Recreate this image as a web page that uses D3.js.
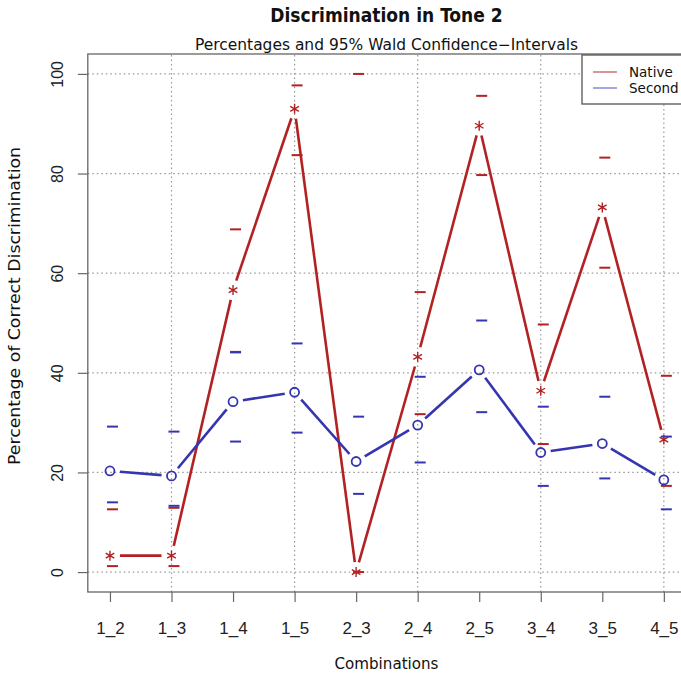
<!DOCTYPE html>
<html>
<head>
<meta charset="utf-8">
<script src="https://cdn.jsdelivr.net/npm/d3@7"></script>
<style>
  body { margin: 0; background: #fff; }
  svg { display: block; font-family: "DejaVu Sans", sans-serif; }
  .cond { font-family: "DejaVu Sans Condensed", "DejaVu Sans", sans-serif; font-stretch: condensed; }
</style>
</head>
<body>
<svg id="chart" width="681" height="680"></svg>
<script>
// combinations on the x axis
var combos = ['1_2', '1_3', '1_4', '1_5', '2_3', '2_4', '2_5', '3_4', '3_5', '4_5'];
var yTicks = [0, 20, 40, 60, 80, 100];

// native speakers: percentage and CI bounds
var nativePct   = [3.3, 3.3, 56.6, 93.0, 0.0, 43.2, 89.6, 36.4, 73.2, 26.6];
var nativeLow   = [1.2, 1.2, 44.2, 83.7, 0.0, 31.7, 79.7, 25.7, 61.1, 17.3];
var nativeHigh  = [12.6, 12.9, 68.8, 97.7, 100.0, 56.2, 95.6, 49.7, 83.2, 39.4];

// second language speakers
var secondPct   = [20.3, 19.3, 34.2, 36.1, 22.2, 29.5, 40.6, 24.0, 25.8, 18.5];
var secondLow   = [14.0, 13.3, 26.2, 28.0, 15.7, 22.0, 32.1, 17.3, 18.8, 12.6];
var secondHigh  = [29.2, 28.2, 44.1, 45.9, 31.2, 39.2, 50.5, 33.2, 35.2, 27.2];

var red = '#b22222';
var blue = '#3535b0';

var svg = d3.select('#chart');

var x = d3.scaleLinear().domain([0.64, 10.36]).range([87.8, 686]);
var y = d3.scaleLinear().domain([-4, 104]).range([592, 54]);

// grid (R grid(): dotted at pretty positions)
var grid = svg.append('g').attr('class', 'grid')
    .attr('stroke', '#999').attr('stroke-width', 1.2).attr('stroke-dasharray', '1.5,3');
grid.selectAll('line.h').data(yTicks).enter().append('line')
    .attr('x1', x.range()[0]).attr('x2', x.range()[1])
    .attr('y1', function(d) { return y(d); }).attr('y2', function(d) { return y(d); });
grid.selectAll('line.v').data([2, 4, 6, 8, 10]).enter().append('line')
    .attr('y1', y.range()[0]).attr('y2', y.range()[1])
    .attr('x1', function(d) { return x(d); }).attr('x2', function(d) { return x(d); });

// plot box
svg.append('rect')
    .attr('x', x.range()[0]).attr('y', y.range()[1])
    .attr('width', x.range()[1] - x.range()[0]).attr('height', y.range()[0] - y.range()[1])
    .attr('fill', 'none').attr('stroke', '#666').attr('stroke-width', 1.3);

// y axis, R style with rotated labels
var yAxis = svg.append('g')
    .attr('transform', 'translate(' + x.range()[0] + ',0)')
    .call(d3.axisLeft(y).tickValues(yTicks).tickSize(10).tickPadding(0).tickFormat(d3.format('d')));
yAxis.select('.domain').remove();
yAxis.selectAll('line').attr('stroke', '#666').attr('stroke-width', 1.2);
yAxis.selectAll('text')
    .attr('x', 0).attr('y', 0).attr('dy', '0.35em')
    .attr('text-anchor', 'middle')
    .attr('transform', 'translate(-30,0) rotate(-90)')
    .attr('font-size', 16).attr('fill', '#222');

// x axis
var xAxis = svg.append('g')
    .attr('transform', 'translate(0,' + y.range()[0] + ')')
    .call(d3.axisBottom(x).tickValues(d3.range(1, 11)).tickSize(10).tickPadding(20)
        .tickFormat(function(d) { return combos[d - 1]; }));
xAxis.select('.domain').remove();
xAxis.selectAll('line').attr('stroke', '#666').attr('stroke-width', 1.2);
xAxis.selectAll('text').attr('font-size', 17).attr('fill', '#222');

// titles
svg.append('text').attr('class', 'cond').attr('x', 386.5).attr('y', 22).attr('text-anchor', 'middle')
    .attr('font-size', 19).attr('font-weight', 'bold').attr('fill', '#111')
    .text('Discrimination in Tone 2');
svg.append('text').attr('x', 386.5).attr('y', 50).attr('text-anchor', 'middle')
    .attr('font-size', 15).attr('fill', '#111')
    .attr('textLength', 383).attr('lengthAdjust', 'spacingAndGlyphs')
    .text('Percentages and 95% Wald Confidence\u2212Intervals');
svg.append('text').attr('x', 386.5).attr('y', 669).attr('text-anchor', 'middle')
    .attr('font-size', 15).attr('fill', '#111')
    .attr('textLength', 104).attr('lengthAdjust', 'spacingAndGlyphs')
    .text('Combinations');
svg.append('text').attr('transform', 'translate(20,306) rotate(-90)').attr('text-anchor', 'middle')
    .attr('font-size', 16).attr('fill', '#111')
    .attr('textLength', 318).attr('lengthAdjust', 'spacingAndGlyphs')
    .text('Percentage of Correct Discrimination');

// type = "b": segments with a gap around each point
function gappedSegments(vals, gap) {
    var segs = [];
    for (var i = 0; i < vals.length - 1; i++) {
        var x1 = x(i + 1), y1 = y(vals[i]), x2 = x(i + 2), y2 = y(vals[i + 1]);
        var dx = x2 - x1, dy = y2 - y1, len = Math.sqrt(dx * dx + dy * dy);
        if (len <= 2 * gap) continue;
        var ux = dx / len, uy = dy / len;
        segs.push([x1 + ux * gap, y1 + uy * gap, x2 - ux * gap, y2 - uy * gap]);
    }
    return segs;
}

function drawSeries(pct, low, high, color, cls) {
    var g = svg.append('g').attr('class', cls);
    g.selectAll('line.seg').data(gappedSegments(pct, 10)).enter().append('line')
        .attr('class', 'seg')
        .attr('x1', function(d) { return d[0]; }).attr('y1', function(d) { return d[1]; })
        .attr('x2', function(d) { return d[2]; }).attr('y2', function(d) { return d[3]; })
        .attr('stroke', color).attr('stroke-width', 2.6);
    // CI dashes
    g.selectAll('line.ci').data(low.concat(high)).enter().append('line')
        .attr('class', 'ci')
        .attr('x1', function(d, i) { return x(i % 10 + 1) - 3; })
        .attr('x2', function(d, i) { return x(i % 10 + 1) + 8; })
        .attr('y1', function(d) { return y(d); }).attr('y2', function(d) { return y(d); })
        .attr('stroke', color).attr('stroke-width', 2);
    return g;
}

var nat = drawSeries(nativePct, nativeLow, nativeHigh, red, 'native');
var sec = drawSeries(secondPct, secondLow, secondHigh, blue, 'second');

// native points: asterisks
var star = 'M0,-5L0,5M-4.3,-2.5L4.3,2.5M-4.3,2.5L4.3,-2.5';
nat.selectAll('path.pt').data(nativePct).enter().append('path')
    .attr('class', 'pt')
    .attr('transform', function(d, i) { return 'translate(' + x(i + 1) + ',' + y(d) + ')'; })
    .attr('d', star).attr('stroke', red).attr('stroke-width', 1.4).attr('fill', 'none');

// second points: open circles
sec.selectAll('circle').data(secondPct).enter().append('circle')
    .attr('cx', function(d, i) { return x(i + 1); })
    .attr('cy', function(d) { return y(d); })
    .attr('r', 4.5).attr('fill', 'none').attr('stroke', blue).attr('stroke-width', 1.8);

// legend
var legend = svg.append('g').attr('transform', 'translate(582,55)');
legend.append('rect').attr('width', 120).attr('height', 49)
    .attr('fill', '#fff').attr('stroke', '#555').attr('stroke-width', 1.3);
var items = [['Native', '#c05050'], ['Second', '#6a6ad0']];
items.forEach(function(it, i) {
    var yy = 17 + i * 16;
    legend.append('line').attr('x1', 11).attr('x2', 35).attr('y1', yy).attr('y2', yy)
        .attr('stroke', it[1]).attr('stroke-width', 1.2);
    legend.append('text').attr('x', 47).attr('y', yy).attr('dy', '0.35em')
        .attr('font-size', 13.5).attr('fill', '#111').text(it[0]);
});
</script>
</body>
</html>
